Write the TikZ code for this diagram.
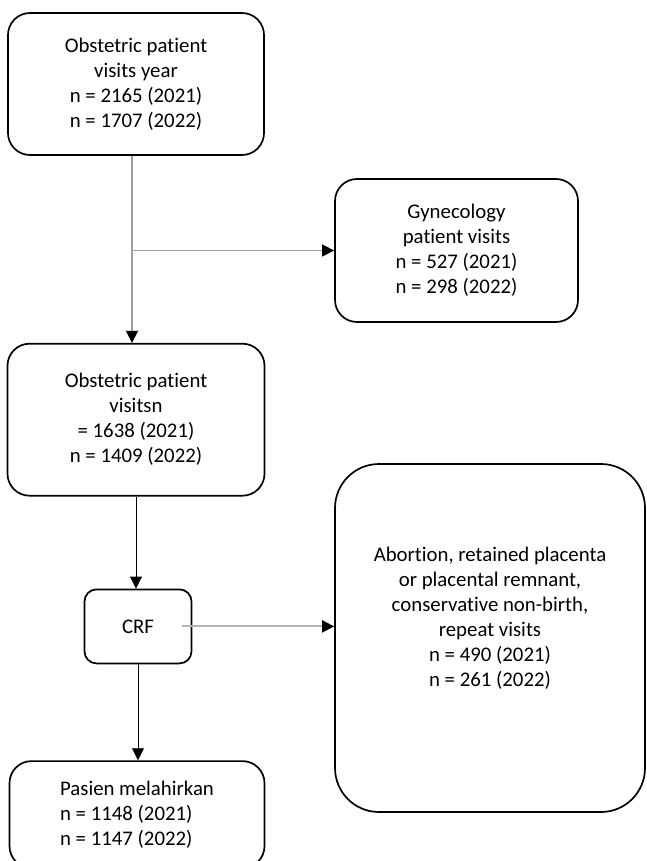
\documentclass[tikz,border=0pt]{standalone}
\usepackage{fontspec}
\setmainfont{Carlito}[Ligatures=NoCommon]
\usetikzlibrary{positioning, arrows.meta}

\tikzset{
  flowbox/.style={draw, line width=1.7pt, rounded corners=22pt, align=center,
    inner sep=0pt, font=\fontsize{20.8}{25}\selectfont},
  grayline/.style={draw=black!38, line width=1.2pt,
    -{Triangle[length=12pt, width=12pt, color=black]}},
  blackline/.style={draw=black, line width=0.9pt,
    -{Triangle[length=12pt, width=12pt]}}
}

\begin{document}
\begin{tikzpicture}[x=1pt, y=-1pt]
\useasboundingbox (0,0) rectangle (646,861);

        % main column
        \node[flowbox, minimum width=256pt, minimum height=142pt] (visits) at (136,84)
            {Obstetric patient\\ visits year\\ n = 2165 (2021)\\ n = 1707 (2022)};
        \node[flowbox, minimum width=257pt, minimum height=152pt, below=187pt of visits] (obst)
            {Obstetric patient\\ visitsn\\ = 1638 (2021)\\ n = 1409 (2022)};
        \node[flowbox, minimum width=107pt, minimum height=74pt, rounded corners=12pt,
            below=92pt of obst, xshift=2pt] (crf) {CRF};
        \node[flowbox, minimum width=255pt, minimum height=107pt, align=left,
            below=96pt of crf, xshift=-1pt] (birth)
            {Pasien melahirkan\\ n = 1148 (2021)\\ n = 1147 (2022)};

        % excluded
        \node[flowbox, minimum width=243pt, minimum height=143pt] (gyn) at (456.5,250.5)
            {Gynecology\\ patient visits\\ n = 527 (2021)\\ n = 298 (2022)};
        \node[flowbox, minimum width=310pt, minimum height=348pt, rounded corners=44pt] (excl) at (490,638) {};
        \node[align=center, inner sep=0pt, font=\fontsize{20.8}{25}\selectfont] (excltext)
            at ([yshift=20pt]excl.center)
            {Abortion, retained placenta\\ or placental remnant,\\ conservative non-birth,\\ repeat visits\\
             n = 490 (2021)\\ n = 261 (2022)};

        \coordinate (split) at ([xshift=-4pt]visits.south |- gyn.west);

        \draw[grayline] ([xshift=-4pt]visits.south) -- ([xshift=-4pt]visits.south |- obst.north);
        \draw[grayline] (split) -- (gyn.west);
        \draw[blackline] (obst.south) -- (obst.south |- crf.north);
        \draw[grayline, draw=black!30, line width=2pt] ([xshift=-10pt]crf.east) -- (crf.east -| excl.west);
        \draw[blackline] (crf.south) -- (crf.south |- birth.north);

\end{tikzpicture}
\end{document}
